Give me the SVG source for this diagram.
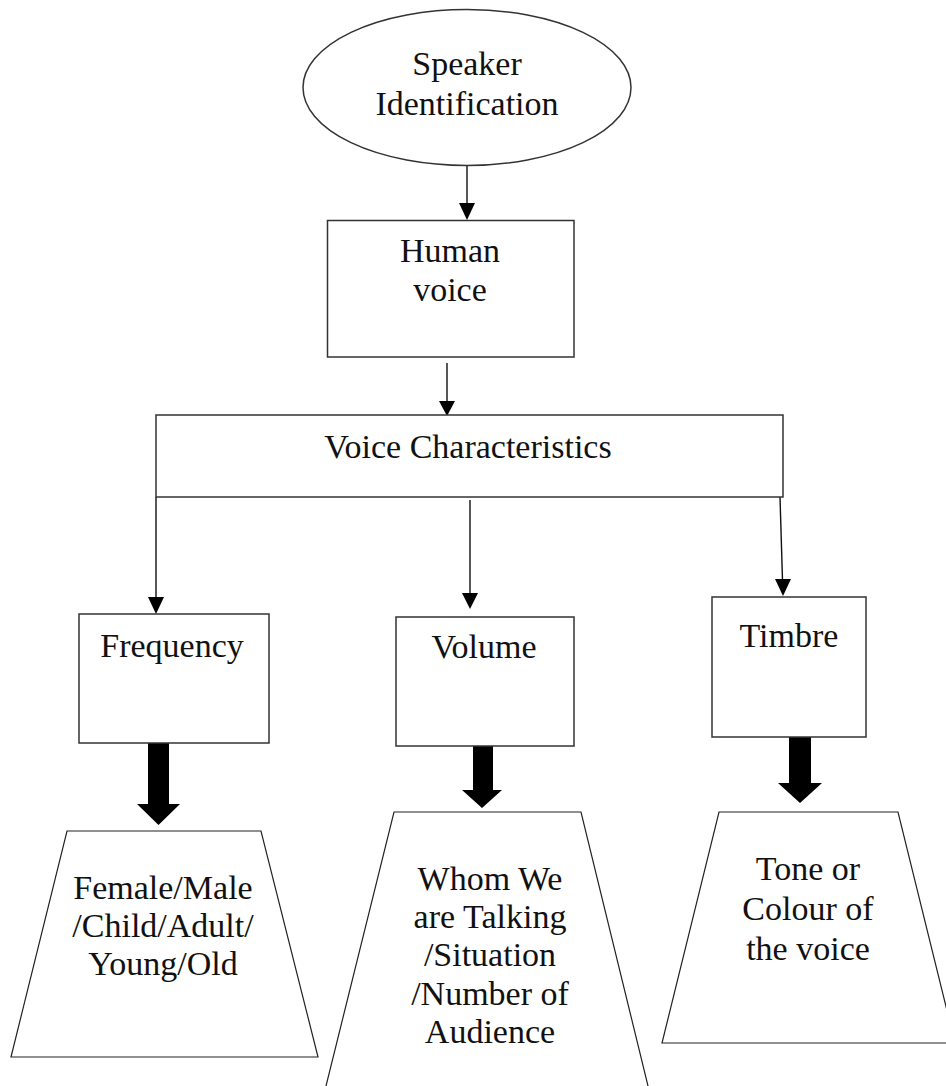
<svg xmlns="http://www.w3.org/2000/svg" width="946" height="1086" viewBox="0 0 946 1086">
  <style>
    .shape { fill: #ffffff; stroke: #333333; stroke-width: 1.5; }
    .trap { fill: #ffffff; stroke: #222222; stroke-width: 1.2; }
    .label { font-family: "Liberation Serif", "Times New Roman", serif; font-size: 34px; fill: #111111; text-anchor: middle; }
    .link { stroke: #111111; stroke-width: 1.4; fill: none; }
    .head { fill: #000000; stroke: none; }
    .block { fill: #000000; stroke: none; }
  </style>
  <rect width="946" height="1086" fill="#ffffff"/>

  <!-- connectors: thin arrows between levels, thick block arrows to the example shapes -->
  <g id="connectors">
    <path class="link" d="M467,166 L467,204"/>
    <path class="head" d="M459,203 L475,203 L467,220 Z"/>
    <path class="link" d="M447,363 L447,402"/>
    <path class="head" d="M439,401 L455,401 L447,416 Z"/>
    <path class="link" d="M156,497 L156,598"/>
    <path class="head" d="M148,597 L164,597 L156,614 Z"/>
    <path class="link" d="M470,500 L470,594"/>
    <path class="head" d="M462,593 L478,593 L470,609 Z"/>
    <path class="link" d="M780,497 L782.5,580"/>
    <path class="head" d="M775,579 L791,579 L783,596 Z"/>
    <path class="block" d="M148,741 L169,741 L169,804 L180,804 L158.5,825 L137,804 L148,804 Z"/>
    <path class="block" d="M473,745 L493,745 L493,790 L502,790 L482,808 L462,790 L473,790 Z"/>
    <path class="block" d="M789,737 L811,737 L811,783 L822,783 L800,803 L778,783 L789,783 Z"/>
  </g>

  <g id="speaker-identification">
    <ellipse class="shape" cx="467" cy="87.5" rx="164" ry="78"/>
    <text class="label" x="467" y="75">Speaker</text>
    <text class="label" x="467" y="115">Identification</text>
  </g>

  <g id="human-voice">
    <rect class="shape" x="327.5" y="220.5" width="246.5" height="136.5"/>
    <text class="label" x="450" y="262">Human</text>
    <text class="label" x="450" y="301">voice</text>
  </g>

  <g id="voice-characteristics">
    <rect class="shape" x="156" y="415" width="627" height="82"/>
    <text class="label" x="468" y="458">Voice Characteristics</text>
  </g>

  <g id="frequency">
    <rect class="shape" x="79" y="614" width="190" height="129"/>
    <text class="label" x="172" y="657">Frequency</text>
  </g>

  <g id="volume">
    <rect class="shape" x="396" y="617" width="178" height="129"/>
    <text class="label" x="484" y="658">Volume</text>
  </g>

  <g id="timbre">
    <rect class="shape" x="712" y="597" width="154" height="140"/>
    <text class="label" x="789" y="647">Timbre</text>
  </g>

  <g id="frequency-examples">
    <path class="trap" d="M67,831 L261,831 L318,1057 L11,1057 Z"/>
    <text class="label" x="163" y="899">Female/Male</text>
    <text class="label" x="163" y="937">/Child/Adult/</text>
    <text class="label" x="163" y="975">Young/Old</text>
  </g>

  <g id="volume-examples">
    <path class="trap" d="M325,1090 L394,812 L581,812 L649,1090"/>
    <text class="label" x="490" y="890">Whom We</text>
    <text class="label" x="490" y="928">are Talking</text>
    <text class="label" x="490" y="966">/Situation</text>
    <text class="label" x="490" y="1005">/Number of</text>
    <text class="label" x="490" y="1043">Audience</text>
  </g>

  <g id="timbre-examples">
    <path class="trap" d="M719,812 L898,812 L955,1043 L662,1043 Z"/>
    <text class="label" x="808" y="880">Tone or</text>
    <text class="label" x="808" y="920">Colour of</text>
    <text class="label" x="808" y="960">the voice</text>
  </g>
</svg>
